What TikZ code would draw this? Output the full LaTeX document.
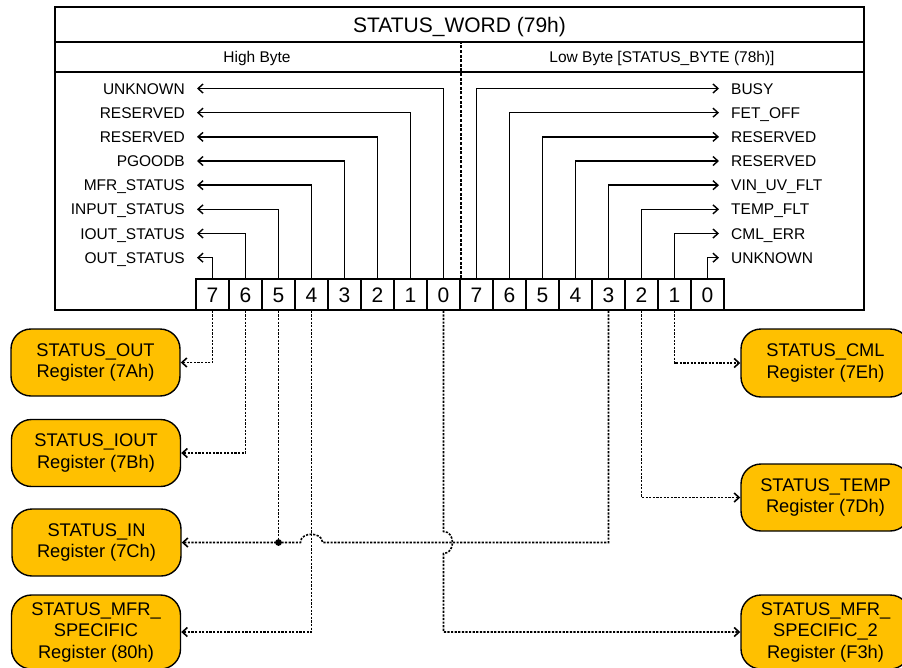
\documentclass[tikz,border=0pt]{standalone}
\usepackage{fontspec}
\setmainfont{Liberation Sans}
\usetikzlibrary{arrows.meta,calc}
\definecolor{regfill}{HTML}{FFC000}
\begin{document}
\begin{tikzpicture}[x=1pt,y=-1pt,
  lbl/.style={font=\fontsize{15.5}{18}\selectfont, inner sep=0pt, text height=11pt, text depth=0pt},
  hdr/.style={font=\fontsize{15.5}{18}\selectfont, inner sep=0pt, text height=11pt, text depth=0pt},
  ttl/.style={font=\fontsize{21}{25}\selectfont, inner sep=0pt, text height=15pt, text depth=0pt},
  bitcell/.style={draw, line width=1.4pt, minimum width=33pt, minimum height=31pt, inner sep=0pt,
    font=\fontsize{21}{25}\selectfont, text height=15pt, text depth=0pt},
  reg/.style={draw, line width=1.4pt, fill=regfill, rounded corners=20pt, minimum width=169pt,
    align=center, font=\fontsize{18.3}{21.5}\selectfont, inner sep=0pt},
  sol/.style={line width=1.4pt, -{Straight Barb[length=5pt,width=9pt]}, shorten >=12pt},
  dl/.style={line width=1.6pt, dash pattern=on 2.2pt off 1.4pt, -{Straight Barb[length=5pt,width=9pt]}},
  dlplain/.style={line width=1.6pt, dash pattern=on 2.2pt off 1.4pt}
]
\useasboundingbox (0,0) rectangle (902,667);
\clip (0,0) rectangle (902,667);

% outer frame
\draw[line width=2.6pt] (55,7) rectangle (864,310);
\draw[line width=2.2pt] (55,42) -- (864,42);
\draw[line width=2.2pt] (55,72) -- (864,72);
\node[ttl] (title) at (459.5,24.5) {STATUS\_WORD (79h)};
\node[hdr] (hbyte) at (257,57) {High Byte};
\node[hdr] (lbyte) at (662,57) {Low Byte [STATUS\_BYTE (78h)]};

% bit cells
\foreach \i in {0,...,7} {
  \pgfmathtruncatemacro\b{7-\i}
  \node[bitcell] (hb\b) at (212.5+33*\i, 294.5) {\b};
  \node[bitcell] (lb\b) at (476.5+33*\i, 294.5) {\b};
}
\draw[line width=1.8pt, dash pattern=on 3pt off 1.6pt] (hb0.north east) -- (hb0.north east |- 0,43);

% left labels and connectors
\foreach \b/\t in {0/UNKNOWN,1/RESERVED,2/RESERVED,3/PGOODB,4/MFR\_STATUS,5/INPUT\_STATUS,6/IOUT\_STATUS,7/OUT\_STATUS} {
  \node[lbl, anchor=east] (hl\b) at (185, 88.5+24.17*\b) {\t};
  \draw[sol] (hb\b.north) |- (hl\b.east);
}
% right labels and connectors
\foreach \b/\t in {7/BUSY,6/FET\_OFF,5/RESERVED,4/RESERVED,3/VIN\_UV\_FLT,2/TEMP\_FLT,1/CML\_ERR,0/UNKNOWN} {
  \node[lbl, anchor=west] (rl\b) at (731, 88.5+24.17*7-24.17*\b) {\t};
  \draw[sol] (lb\b.north) |- (rl\b.west);
}

% register boxes
\node[reg, minimum height=67pt] (sout) at (95.5,362.5) {STATUS\_OUT\\Register (7Ah)};
\node[reg, minimum height=67pt] (siout) at (96,453) {STATUS\_IOUT\\Register (7Bh)};
\node[reg, minimum height=67pt] (sin) at (96.5,542.5) {STATUS\_IN\\Register (7Ch)};
\node[reg, minimum height=74pt] (smfr) at (96,632) {STATUS\_MFR\_\\SPECIFIC\\Register (80h)};
\node[reg, minimum height=68pt] (scml) at (825.5,363) {STATUS\_CML\\Register (7Eh)};
\node[reg, minimum height=67pt] (stemp) at (825.5,497.5) {STATUS\_TEMP\\Register (7Dh)};
\node[reg, minimum height=74pt] (smfrt) at (825.5,632) {STATUS\_MFR\_\\SPECIFIC\_2\\Register (F3h)};

% dotted connectors
\draw[dl] (hb7.south) |- (sout.east);
\draw[dl] (hb6.south) |- (siout.east);
\coordinate (jn) at (hb5.south |- sin.east);
\draw[dlplain] (hb5.south) -- (jn);
\fill (jn) circle (3.4pt);
\draw[dl] (hb4.south) |- (smfr.east);
\coordinate (hr) at ($(hb4.south |- sin.east)+(11,0)$);
\coordinate (hlft) at ($(hb4.south |- sin.east)+(-11,0)$);
\draw[dl] (lb3.south) |- (hr) .. controls +(0,-11) and +(0,-11) .. (hlft) -- (sin.east);
\coordinate (vt) at ($(hb0.south |- sin.east)+(0,-11)$);
\coordinate (vb) at ($(hb0.south |- sin.east)+(0,11)$);
\draw[dl] (hb0.south) -- (vt) .. controls +(12,0) and +(12,0) .. (vb) |- (smfrt.west);
\draw[dl] (lb2.south) |- (stemp.west);
\draw[dl] (lb1.south) |- (scml.west);
\end{tikzpicture}
\end{document}
